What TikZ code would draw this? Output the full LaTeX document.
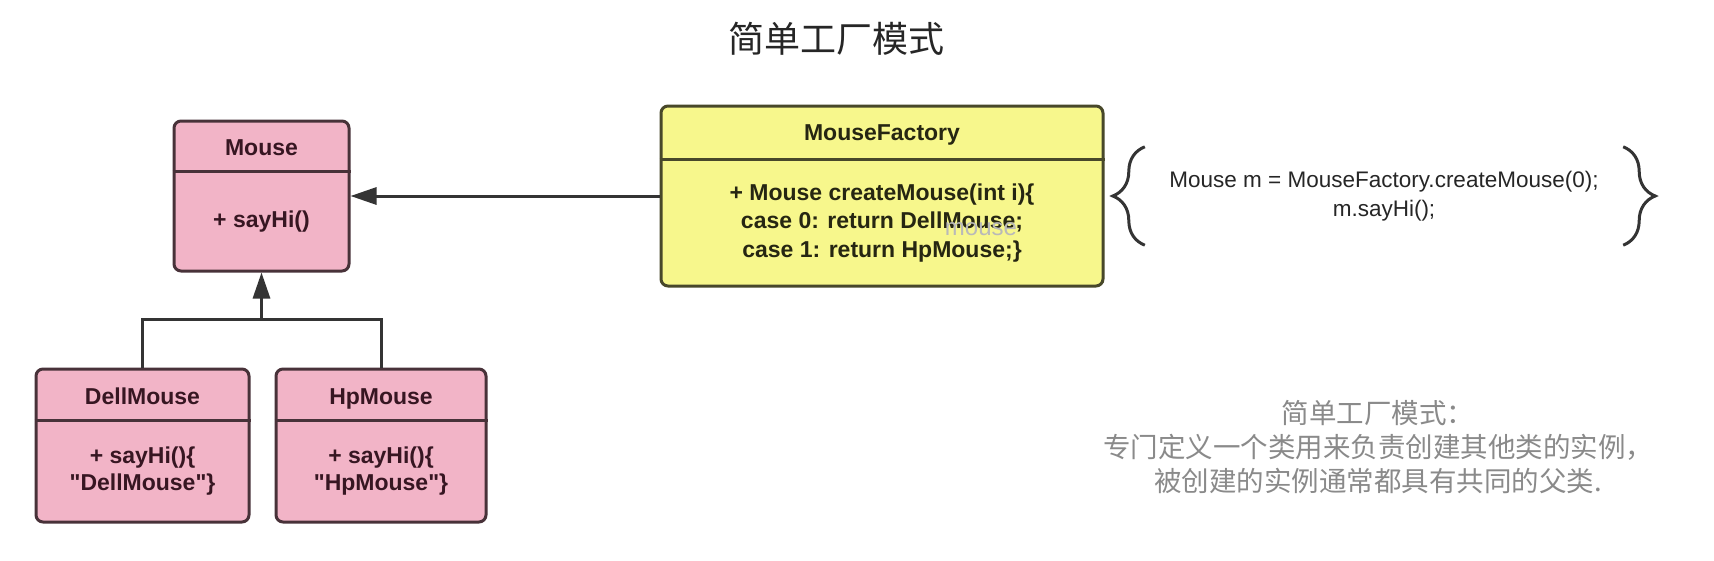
\documentclass[tikz,border=0pt]{standalone}
\usepackage{fontspec}
\setmainfont{Liberation Sans}[Ligatures=TeXOff]
\newfontfamily\cjk{Noto Sans CJK SC}
\usepackage{tikz}
\usetikzlibrary{arrows.meta}
\usetikzlibrary{decorations.pathreplacing}
\usetikzlibrary{positioning}
\definecolor{pinkfill}{RGB}{242,180,199}
\definecolor{pinkline}{RGB}{72,50,57}
\definecolor{pinktext}{RGB}{55,22,34}
\definecolor{yellowfill}{RGB}{247,247,140}
\definecolor{yellowline}{RGB}{72,72,42}
\definecolor{yellowtext}{RGB}{38,38,18}
\definecolor{linkgray}{RGB}{52,52,52}
\definecolor{notegray}{RGB}{138,138,138}

\begin{document}
\begin{tikzpicture}[x=1pt, y=-1pt,
        classbox/.style={draw=#1line, fill=#1fill, line width=3pt, rounded corners=7pt},
        classtitle/.style={text=#1text, anchor=north, inner sep=0pt, text height=20pt, text depth=0pt, font=\fontsize{23}{27}\selectfont\bfseries},
        classbody/.style={text=#1text, anchor=north, inner sep=0pt, align=center, font=\fontsize{23}{27.5}\selectfont\bfseries},
        divider/.style={draw=#1line, line width=3pt},
        link/.style={draw=linkgray, line width=3pt, -{Triangle[length=26pt,width=17pt]}},
        plainlink/.style={draw=linkgray, line width=3pt},
        bracket/.style={draw=linkgray, line width=3pt, decorate, decoration={brace, amplitude=32pt}},
        codetext/.style={text=black!85, align=center, inner sep=0pt, font=\fontsize{22.5}{29}\selectfont},
        note/.style={text=notegray, align=center, inner sep=0pt, font=\cjk\fontsize{27.5}{34}\selectfont}]
        \useasboundingbox (0,0) rectangle (1714,560);
        \fill[white] (0,0) rectangle (1714,560);

        \node[inner sep=0pt, text=black!85, font=\cjk\fontsize{36}{40}\selectfont] (heading) at (836,39) {简单工厂模式};

        \node[classbox=pink, minimum width=175pt, minimum height=150pt] (mouse) at (261.5,196) {};
        \node[classtitle=pink, minimum height=52pt] (mousetitle) at (mouse.north) {Mouse};
        \draw[divider=pink] (mousetitle.south -| mouse.west) -- (mousetitle.south -| mouse.east);
        \node[classbody=pink, minimum height=98pt] (mousebody) at (mousetitle.south) {+ sayHi()};

        \node[classbox=pink, minimum width=213pt, minimum height=153pt] (dell) at (142.5,445.5) {};
        \node[classtitle=pink, minimum height=53pt] (delltitle) at (dell.north) {DellMouse};
        \draw[divider=pink] (delltitle.south -| dell.west) -- (delltitle.south -| dell.east);
        \node[classbody=pink, minimum height=100pt] (dellbody) at (delltitle.south) {+ sayHi()\{\\"DellMouse"\}};

        \node[classbox=pink, minimum width=210pt, minimum height=153pt] (hp) at (381,445.5) {};
        \node[classtitle=pink, minimum height=53pt] (hptitle) at (hp.north) {HpMouse};
        \draw[divider=pink] (hptitle.south -| hp.west) -- (hptitle.south -| hp.east);
        \node[classbody=pink, minimum height=100pt] (hpbody) at (hptitle.south) {+ sayHi()\{\\"HpMouse"\}};

        \node[classbox=yellow, minimum width=442pt, minimum height=180pt] (factory) at (882,196) {};
        \node[classtitle=yellow, minimum height=55pt, text height=17pt] (factorytitle) at (factory.north) {MouseFactory};
        \draw[divider=yellow] (factorytitle.south -| factory.west) -- (factorytitle.south -| factory.east);
        \node[classbody=yellow, minimum height=125pt, font=\fontsize{23}{28.5}\selectfont\bfseries] (factorybody) at (factorytitle.south)
            {+ Mouse createMouse(int i)\{\\case 0: return DellMouse;\\case 1: return HpMouse;\}};
        \node[inner sep=0pt, text=gray!55, font=\fontsize{24}{28}\selectfont] (ghost) at (981,229) {mouse};

        \coordinate (joint) at (261.5,319);
        \draw[link] (factory.west) -- (mouse.east);
        \draw[plainlink] (dell.north) |- (joint) -| (hp.north);
        \draw[link] (joint) -- (mouse.south);

        \node[codetext, minimum width=478pt, minimum height=98pt] (client) at (1384,196)
            {Mouse m = MouseFactory.createMouse(0);\\m.sayHi();};
        \draw[bracket] (client.south west) -- (client.north west);
        \draw[bracket] (client.north east) -- (client.south east);

        \node[note] (summary) at (1378,447)
            {简单工厂模式：\\专门定义一个类用来负责创建其他类的实例，\\被创建的实例通常都具有共同的父类.};
\end{tikzpicture}
\end{document}
